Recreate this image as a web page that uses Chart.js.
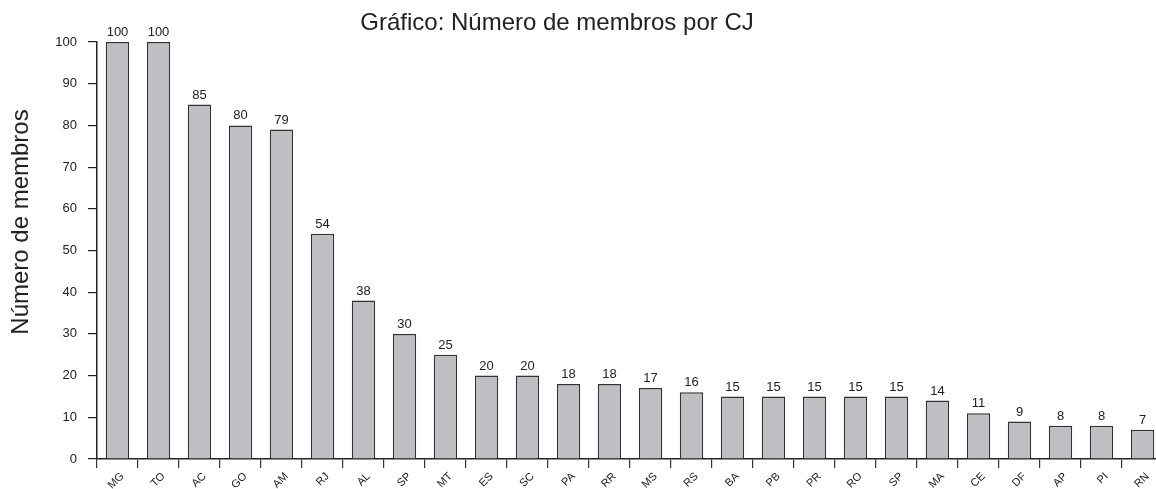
<!DOCTYPE html>
<html>
<head>
<meta charset="utf-8">
<script src="https://cdn.jsdelivr.net/npm/chart.js@4"></script>
<style>
  html, body { margin: 0; padding: 0; background: #fff; overflow: hidden; }
  #wrap { width: 1170px; height: 489px; }
</style>
</head>
<body>
<div id="wrap"><canvas id="membrosChart"></canvas></div>
<script>
// Dados do gráfico
const estados = ['MG', 'TO', 'AC', 'GO', 'AM', 'RJ', 'AL', 'SP', 'MT', 'ES', 'SC', 'PA', 'RR',
    'MS', 'RS', 'BA', 'PB', 'PR', 'RO', 'SP', 'MA', 'CE', 'DF', 'AP', 'PI', 'RN'];
const membros = [100, 100, 85, 80, 79, 54, 38, 30, 25, 20, 20, 18, 18, 17, 16, 15, 15, 15, 15, 15, 14, 11, 9, 8, 8, 7];
const yTicks = [0, 10, 20, 30, 40, 50, 60, 70, 80, 90, 100];

const tituloGrafico = 'Gráfico: Número de membros por CJ';
const tituloEixoY = 'Número de membros';
const fonte = '"Liberation Sans", Arial, sans-serif';

// Rótulos de valor acima das barras
const valoresPlugin = {
    id: 'valores',
    afterDatasetsDraw(chart) {
        const ctx = chart.ctx;
        const meta = chart.getDatasetMeta(0);
        ctx.save();
        ctx.font = '13px ' + fonte;
        ctx.fillStyle = '#222';
        ctx.textAlign = 'center';
        ctx.textBaseline = 'bottom';
        meta.data.forEach((bar, i) => {
            ctx.fillText(String(membros[i]), bar.x, bar.y - 3);
        });
        ctx.restore();
    }
};

// Títulos (posicionados como no original, um pouco fora do centro)
const titulosPlugin = {
    id: 'titulos',
    afterDraw(chart) {
        const ctx = chart.ctx;
        ctx.save();
        ctx.fillStyle = '#222';
        ctx.textAlign = 'center';
        ctx.textBaseline = 'middle';
        ctx.font = '24px ' + fonte;
        ctx.fillText(tituloGrafico, 557, 23);
        // eixo Y
        ctx.translate(21, 222);
        ctx.rotate(-Math.PI / 2);
        ctx.fillText(tituloEixoY, 0, 0);
        ctx.restore();
    }
};

new Chart(document.getElementById('membrosChart'), {
    type: 'bar',
    data: {
        labels: estados,
        datasets: [{
            data: membros,
            backgroundColor: '#bebfc3',
            borderColor: '#333',
            borderWidth: 1.5,
            categoryPercentage: 1,
            barPercentage: 0.57
        }]
    },
    options: {
        responsive: true,
        maintainAspectRatio: false,
        animation: false,
        layout: { padding: { top: 42, right: 7, left: 0, bottom: 0 } },
        plugins: {
            legend: { display: false },
            tooltip: { enabled: false },
            title: { display: false }
        },
        scales: {
            x: {
                offset: true,
                grid: {
                    offset: true,
                    drawOnChartArea: false,
                    drawTicks: true,
                    tickLength: 9,
                    color: '#333',
                    lineWidth: 1.2
                },
                border: { display: true, color: '#222', width: 1.5 },
                ticks: {
                    autoSkip: false,
                    maxRotation: 45,
                    minRotation: 45,
                    padding: 2,
                    labelOffset: 5,
                    color: '#222',
                    font: { family: fonte, size: 11 }
                },
                afterFit(scale) { scale.height = 30; }
            },
            y: {
                min: 0,
                max: 100,
                afterBuildTicks(scale) {
                    scale.ticks = yTicks.map(v => ({ value: v }));
                },
                grid: {
                    drawOnChartArea: false,
                    drawTicks: true,
                    tickLength: 9,
                    color: '#222',
                    lineWidth: 1.2
                },
                border: { display: true, color: '#222', width: 1.5 },
                ticks: {
                    padding: 11,
                    color: '#222',
                    font: { family: fonte, size: 13 }
                },
                afterFit(scale) { scale.width = 97; }
            }
        }
    },
    plugins: [valoresPlugin, titulosPlugin]
});
</script>
</body>
</html>
